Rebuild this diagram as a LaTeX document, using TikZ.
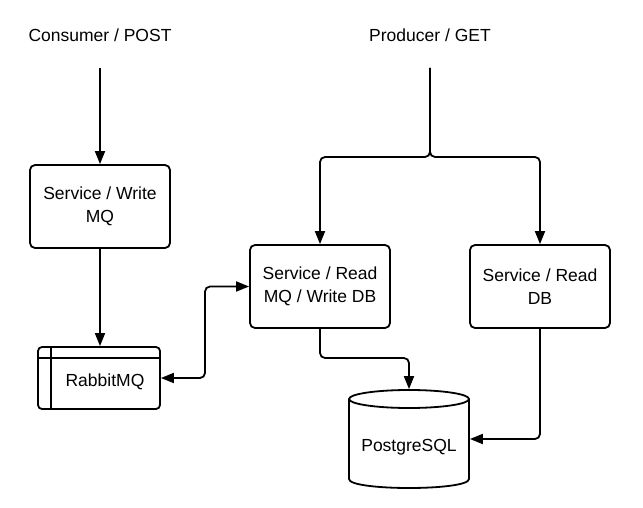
\documentclass[tikz,border=0pt]{standalone}
\usepackage{fontspec}
\setmainfont{Liberation Sans}
\usetikzlibrary{arrows.meta}
\begin{document}
\begin{tikzpicture}[x=1pt,y=-1pt,
  font=\fontsize{17.5pt}{23pt}\selectfont,
  line width=1.8pt,
  svc/.style={draw,rounded corners=5pt,minimum width=140pt,minimum height=83pt,align=center,inner sep=0pt},
  conn/.style={-{Triangle[length=13pt,width=10pt]},rounded corners=5pt},
  biconn/.style={{Triangle[length=13pt,width=10pt]}-{Triangle[length=13pt,width=10pt]},rounded corners=5pt},
  lbl/.style={inner sep=0pt}]
\useasboundingbox (0,0) rectangle (643,508);
\fill[white] (0,0) rectangle (643,508);

\node[lbl] (consumer) at (100,35) {Consumer / POST};
\node[lbl] (producer) at (430,35) {Producer / GET};
\coordinate (cstart) at (100,68);
\coordinate (pstart) at (430,68);
\coordinate (split) at (430,157);

\node[svc] (write) at (100,206.5) {Service / Write\\MQ};
\node[svc] (readmq) at (320,286.5) {Service / Read\\MQ / Write DB};
\node[svc] (readdb) at (540,286.5) {Service / Read\\DB};

% RabbitMQ
\node[draw,rounded corners=4pt,minimum width=122pt,minimum height=62pt,inner sep=0pt] (rabbit) at (99,378) {};
\draw ([xshift=14pt]rabbit.north west) -- ([xshift=14pt]rabbit.south west);
\draw ([yshift=-12pt]rabbit.north west) -- ([yshift=-12pt]rabbit.north east);
\node[lbl] (rabbittext) at (105,382) {RabbitMQ};

% PostgreSQL cylinder
\node[minimum width=120pt,minimum height=98pt,inner sep=0pt] (pg) at (409,439) {};
\draw (409,399) ellipse [x radius=60pt,y radius=9pt];
\draw (349,399) -- (349,479) .. controls (349,491) and (469,491) .. (469,479) -- (469,399);
\node[lbl] (pgtext) at (409,447) {PostgreSQL};

% connectors
\draw[conn] (cstart) -- (write.north);
\draw[conn] (write.south) -- (write.south |- rabbit.north);
\draw[conn] (pstart) -- (split) -| (readmq.north);
\draw[conn] (pstart) -- (split) -| (readdb.north);
\draw[biconn] (rabbit.east) -- (205,378) |- (readmq.west);
\draw[conn] (readmq.south) -- (320,358) -| (pg.north);
\draw[conn] (readdb.south) |- (pg.east);
\end{tikzpicture}
\end{document}
